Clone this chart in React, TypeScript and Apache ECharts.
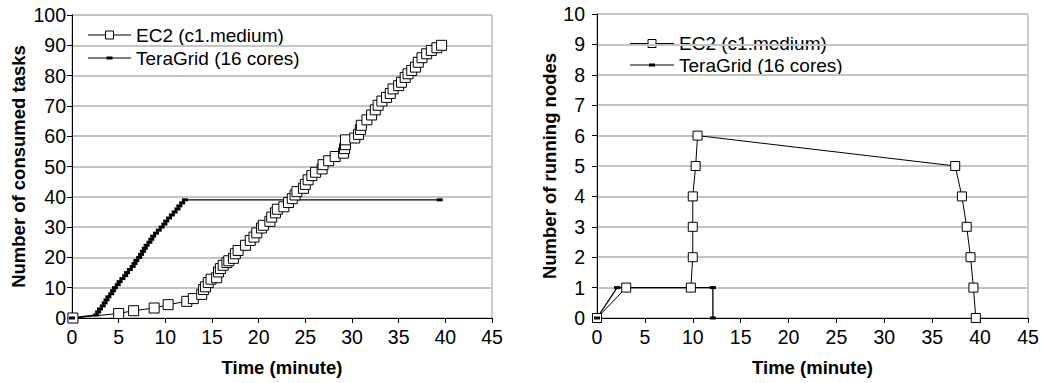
import React, { useEffect, useRef } from "react";
import * as echarts from "echarts";

// ---- Left panel: consumed tasks over time ----
const ec2LeftTime = [
  0.1, 5.0, 6.6, 8.8, 10.3, 12.3, 13.0, 13.9, 14.1, 14.3, 14.6, 14.9, 15.5, 15.7, 15.9, 16.2,
  16.6, 16.8, 17.3, 17.5, 17.8, 18.6, 19.1, 19.5, 19.8, 20.3, 20.5, 21.2, 21.4, 21.8, 22.0,
  22.7, 23.2, 23.6, 23.9, 24.1, 24.8, 25.0, 25.3, 25.7, 26.1, 26.8, 26.9, 27.5, 28.2, 29.1,
  29.2, 29.3, 29.3, 30.3, 30.7, 30.9, 31.0, 31.6, 32.1, 32.5, 32.8, 33.2, 33.7, 34.1, 34.4,
  35.0, 35.3, 35.7, 36.0, 36.4, 36.8, 37.1, 37.5, 38.0, 38.5, 39.1, 39.6,
];
const ec2LeftTasks = [
  0, 1.5, 2.4, 3.3, 4.4, 5.5, 6.4, 7.8, 9.4, 10.3, 11.7, 12.8, 13.3, 15.2, 16.3, 17.4,
  18.3, 18.9, 19.7, 21.2, 22.3, 24.0, 25.6, 26.7, 28.1, 29.7, 30.6, 31.9, 33.3, 34.7, 35.9,
  36.7, 38.1, 39.4, 40.6, 41.7, 42.8, 44.1, 45.6, 47.0, 48.1, 49.2, 50.6, 51.9, 53.3, 54.4,
  55.9, 57.2, 58.8, 59.4, 60.6, 62.2, 63.6, 65.4, 67.0, 68.7, 70.2, 71.6, 72.8, 74.1, 75.6,
  76.7, 77.8, 79.4, 80.6, 81.7, 82.8, 84.4, 85.9, 87.2, 88.3, 89.2, 90.0,
];
const teraLeftTime = [
  0, 2.6, 2.8, 3.0, 3.3, 3.5, 3.7, 3.9, 4.2, 4.4, 4.6, 4.9, 5.1, 5.4, 5.7, 5.9, 6.2, 6.5, 6.7,
  6.9, 7.2, 7.4, 7.6, 7.8, 8.0, 8.3, 8.5, 8.7, 9.0, 9.3, 9.6, 9.9, 10.1, 10.4, 10.7, 11.0,
  11.3, 11.5, 11.8, 12.1, 39.4,
];
const teraLeftTasks = [
  0, 1, 2, 3, 4, 5, 6, 7, 8, 9, 10, 11, 12, 13, 14, 15, 16, 17, 18, 19, 20, 21, 22, 23, 24,
  25, 26, 27, 28, 29, 30, 31, 32, 33, 34, 35, 36, 37, 38, 39, 39,
];

// ---- Right panel: running nodes over time ----
const ec2RightTime = [0, 3.05, 9.8, 10.0, 10.0, 10.0, 10.3, 10.5, 37.4, 38.1, 38.6, 39.0, 39.3, 39.55];
const ec2RightNodes = [0, 1, 1, 2, 3, 4, 5, 6, 5, 4, 3, 2, 1, 0];
const teraRightTime = [0, 2.1, 12.1, 12.1];
const teraRightNodes = [0, 1, 1, 0];

const seriesNames = ["EC2 (c1.medium)", "TeraGrid (16 cores)"];
const xTitle = "Time (minute)";
const yTitles = ["Number of consumed tasks", "Number of running nodes"];

const FONT = '"Liberation Sans", Arial, sans-serif';
const LABEL_SIZE = 19.5;
const LEGEND_SIZE = 19;

const zip = (a: number[], b: number[]) => a.map((v, i) => [v, b[i]]);

function legendGraphic(x1: number, x2: number, y1: number, y2: number) {
  const mid = (x1 + x2) / 2;
  const textX = x2 + 5;
  return [
    { type: "line", shape: { x1, y1, x2, y2: y1 }, style: { stroke: "#000", lineWidth: 1 }, silent: true },
    { type: "rect", shape: { x: mid - 4, y: y1 - 4, width: 8, height: 8 }, style: { fill: "#fff", stroke: "#000", lineWidth: 1 }, silent: true },
    { type: "text", x: textX, y: y1, style: { text: seriesNames[0], font: `${LEGEND_SIZE}px ${FONT}`, fill: "#000", verticalAlign: "middle" }, silent: true },
    { type: "line", shape: { x1, y1: y2, x2, y2 }, style: { stroke: "#000", lineWidth: 1 }, silent: true },
    { type: "rect", shape: { x: mid - 3, y: y2 - 1.5, width: 6, height: 3 }, style: { fill: "#000" }, silent: true },
    { type: "text", x: textX, y: y2, style: { text: seriesNames[1], font: `${LEGEND_SIZE}px ${FONT}`, fill: "#000", verticalAlign: "middle" }, silent: true },
  ];
}

export default function App() {
  const ref = useRef<HTMLDivElement>(null);

  useEffect(() => {
    if (!ref.current) return;
    const chart = echarts.init(ref.current, undefined, { renderer: "svg" });

    const xAxisBase = (gridIndex: number) => ({
      type: "value",
      gridIndex,
      min: 0,
      max: 45,
      interval: 5,
      name: xTitle,
      nameLocation: "middle",
      nameGap: 40,
      nameTextStyle: { fontFamily: FONT, fontWeight: "bold", fontSize: 18.5, color: "#000" },
      axisLine: { show: true, onZero: false, lineStyle: { color: "#000", width: 1 } },
      axisTick: { show: true, length: 5, lineStyle: { color: "#000" } },
      axisLabel: { fontFamily: FONT, fontSize: LABEL_SIZE, color: "#000", margin: 9 },
      splitLine: { show: false },
    });

    const yAxisBase = (gridIndex: number, max: number, interval: number, nameGap: number, margin: number) => ({
      type: "value",
      gridIndex,
      min: 0,
      max,
      interval,
      name: yTitles[gridIndex],
      nameLocation: "middle",
      nameGap,
      nameTextStyle: { fontFamily: FONT, fontWeight: "bold", fontSize: 18.5, color: "#000" },
      axisLine: { show: true, onZero: false, lineStyle: { color: "#000", width: 1 } },
      axisTick: { show: true, length: 5, lineStyle: { color: "#000" } },
      axisLabel: { fontFamily: FONT, fontSize: LABEL_SIZE, color: "#000", margin },
      splitLine: { show: true, lineStyle: { color: "#c4c4c4", width: 2 } },
    });

    const ec2Style = (size: number) => ({
      symbol: "rect",
      symbolSize: size,
      showAllSymbol: true,
      clip: false,
      silent: true,
      lineStyle: { color: "#000", width: 1 },
      itemStyle: { color: "#fff", borderColor: "#000", borderWidth: 1 },
    });
    const teraStyle = {
      symbol: "rect",
      symbolSize: [6, 3],
      showAllSymbol: true,
      clip: false,
      silent: true,
      lineStyle: { color: "#000", width: 1.3 },
      itemStyle: { color: "#000" },
    };

    chart.setOption({
      animation: false,
      backgroundColor: "#fff",
      grid: [
        { left: 72, top: 15, width: 420, height: 303, show: true, borderColor: "#999", borderWidth: 1, backgroundColor: "transparent" },
        { left: 597, top: 14, width: 431, height: 304, show: true, borderColor: "#999", borderWidth: 1, backgroundColor: "transparent" },
      ],
      xAxis: [xAxisBase(0), xAxisBase(1)],
      yAxis: [yAxisBase(0, 100, 10, 44, 6), yAxisBase(1, 10, 1, 33, 12)],
      series: [
        { type: "line", name: seriesNames[0], xAxisIndex: 0, yAxisIndex: 0, data: zip(ec2LeftTime, ec2LeftTasks), ...ec2Style(10) },
        { type: "line", name: seriesNames[1], xAxisIndex: 0, yAxisIndex: 0, data: zip(teraLeftTime, teraLeftTasks), ...teraStyle },
        { type: "line", name: seriesNames[0], xAxisIndex: 1, yAxisIndex: 1, data: zip(ec2RightTime, ec2RightNodes), ...ec2Style(9) },
        { type: "line", name: seriesNames[1], xAxisIndex: 1, yAxisIndex: 1, data: zip(teraRightTime, teraRightNodes), ...teraStyle },
      ],
      graphic: [...legendGraphic(88, 131, 35, 58), ...legendGraphic(630, 674, 43.5, 65)],
    });

    return () => chart.dispose();
  }, []);

  return (
    <div
      ref={ref}
      style={{ position: "fixed", left: 0, top: 0, width: 1042, height: 383, background: "#fff" }}
    />
  );
}
